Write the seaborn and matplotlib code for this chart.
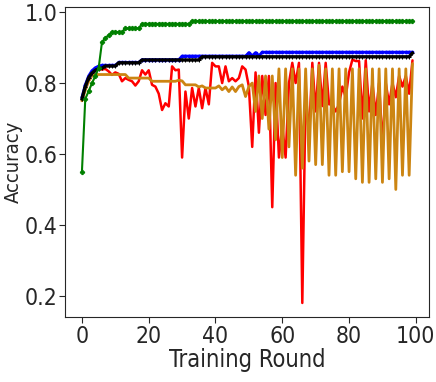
import numpy as np
import seaborn as sns
import matplotlib.pyplot as plt

sns.set_style("ticks")
plt.rcParams['font.family'] = ['DejaVu Sans']
plt.rcParams['font.stretch'] = 'condensed'

rounds = np.arange(100)

# accuracy per training round
green_acc = [0.550, 0.755, 0.777, 0.799, 0.820, 0.842, 0.915, 0.927, 0.935, 0.944,
             0.944, 0.944, 0.944, 0.954, 0.954, 0.954, 0.954, 0.954, 0.967, 0.967,
             0.967, 0.967, 0.967, 0.967, 0.967, 0.967, 0.967, 0.967, 0.967, 0.967,
             0.967, 0.967, 0.967, 0.975, 0.975, 0.975, 0.975, 0.975, 0.975, 0.975,
             0.975, 0.975, 0.975, 0.975, 0.975, 0.975, 0.975, 0.975, 0.975, 0.975,
             0.975, 0.975, 0.975, 0.975, 0.975, 0.975, 0.975, 0.975, 0.975, 0.975,
             0.975, 0.975, 0.975, 0.975, 0.975, 0.975, 0.975, 0.975, 0.975, 0.975,
             0.975, 0.975, 0.975, 0.975, 0.975, 0.975, 0.975, 0.975, 0.975, 0.975,
             0.975, 0.975, 0.975, 0.975, 0.975, 0.975, 0.975, 0.975, 0.975, 0.975,
             0.975, 0.975, 0.975, 0.975, 0.975, 0.975, 0.975, 0.975, 0.975, 0.975]

blue_acc = [0.760, 0.795, 0.820, 0.835, 0.843, 0.848, 0.850, 0.850, 0.850, 0.850,
            0.850, 0.858, 0.858, 0.858, 0.858, 0.858, 0.858, 0.858, 0.866, 0.866,
            0.866, 0.866, 0.866, 0.866, 0.866, 0.866, 0.866, 0.866, 0.866, 0.866,
            0.876, 0.876, 0.876, 0.876, 0.876, 0.876, 0.876, 0.876, 0.876, 0.876,
            0.876, 0.876, 0.876, 0.876, 0.876, 0.876, 0.876, 0.876, 0.876, 0.876,
            0.886, 0.877, 0.886, 0.877, 0.887, 0.887, 0.887, 0.887, 0.887, 0.887,
            0.887, 0.887, 0.887, 0.887, 0.887, 0.887, 0.887, 0.887, 0.887, 0.887,
            0.887, 0.887, 0.887, 0.887, 0.887, 0.887, 0.887, 0.887, 0.887, 0.887,
            0.887, 0.887, 0.887, 0.887, 0.887, 0.887, 0.887, 0.887, 0.887, 0.887,
            0.887, 0.887, 0.887, 0.887, 0.887, 0.887, 0.887, 0.887, 0.887, 0.887]

black_acc = [0.755, 0.790, 0.815, 0.828, 0.836, 0.840, 0.842, 0.848, 0.848, 0.848,
             0.848, 0.857, 0.857, 0.857, 0.857, 0.857, 0.857, 0.857, 0.865, 0.865,
             0.865, 0.865, 0.865, 0.865, 0.865, 0.865, 0.865, 0.865, 0.865, 0.865,
             0.865, 0.865, 0.865, 0.865, 0.865, 0.865, 0.874, 0.874, 0.874, 0.874,
             0.874, 0.874, 0.874, 0.874, 0.874, 0.874, 0.874, 0.874, 0.874, 0.874,
             0.874, 0.874, 0.874, 0.874, 0.874, 0.874, 0.874, 0.874, 0.874, 0.874,
             0.874, 0.874, 0.874, 0.874, 0.874, 0.874, 0.874, 0.874, 0.874, 0.874,
             0.874, 0.874, 0.874, 0.874, 0.874, 0.874, 0.874, 0.874, 0.874, 0.874,
             0.874, 0.874, 0.874, 0.874, 0.874, 0.874, 0.874, 0.874, 0.874, 0.874,
             0.874, 0.874, 0.874, 0.874, 0.874, 0.874, 0.874, 0.874, 0.874, 0.885]

red_acc = [0.750, 0.790, 0.810, 0.830, 0.835, 0.840, 0.838, 0.840, 0.833, 0.823,
           0.830, 0.826, 0.805, 0.814, 0.809, 0.805, 0.793, 0.805, 0.836, 0.824,
           0.836, 0.795, 0.790, 0.770, 0.724, 0.743, 0.734, 0.847, 0.836, 0.838,
           0.590, 0.776, 0.700, 0.786, 0.734, 0.786, 0.729, 0.786, 0.740, 0.857,
           0.847, 0.847, 0.800, 0.847, 0.805, 0.814, 0.805, 0.814, 0.847, 0.838,
           0.790, 0.620, 0.830, 0.660, 0.820, 0.710, 0.820, 0.450, 0.800, 0.590,
           0.680, 0.590, 0.800, 0.857, 0.800, 0.857, 0.180, 0.780, 0.650, 0.857,
           0.720, 0.857, 0.735, 0.857, 0.740, 0.740, 0.720, 0.740, 0.790, 0.760,
           0.830, 0.866, 0.862, 0.862, 0.700, 0.864, 0.720, 0.800, 0.710, 0.800,
           0.620, 0.800, 0.740, 0.800, 0.760, 0.820, 0.790, 0.820, 0.770, 0.864]

orange_acc = [0.750, 0.780, 0.805, 0.820, 0.824, 0.824, 0.824, 0.824, 0.824, 0.824,
              0.824, 0.824, 0.824, 0.824, 0.814, 0.814, 0.814, 0.814, 0.814, 0.814,
              0.814, 0.805, 0.805, 0.805, 0.805, 0.805, 0.805, 0.805, 0.805, 0.808,
              0.806, 0.795, 0.795, 0.795, 0.795, 0.789, 0.792, 0.786, 0.786, 0.786,
              0.786, 0.792, 0.781, 0.789, 0.776, 0.789, 0.776, 0.790, 0.795, 0.762,
              0.790, 0.800, 0.720, 0.820, 0.700, 0.820, 0.670, 0.820, 0.640, 0.840,
              0.590, 0.840, 0.620, 0.840, 0.540, 0.840, 0.560, 0.840, 0.580, 0.840,
              0.570, 0.850, 0.570, 0.840, 0.540, 0.840, 0.540, 0.840, 0.550, 0.840,
              0.550, 0.840, 0.530, 0.840, 0.520, 0.840, 0.520, 0.840, 0.530, 0.840,
              0.520, 0.840, 0.530, 0.840, 0.500, 0.840, 0.540, 0.840, 0.540, 0.855]

fig, ax = plt.subplots(figsize=(4.36, 3.82), dpi=100)
fig.subplots_adjust(left=0.15, right=0.984, bottom=0.17, top=0.982)

sns.lineplot(x=rounds, y=red_acc, color='red', linewidth=1.8, ax=ax)
sns.lineplot(x=rounds, y=orange_acc, color='#cc8512', linewidth=2, ax=ax)
sns.lineplot(x=rounds, y=blue_acc, color='blue', linewidth=2, marker='.',
             markersize=4, markeredgecolor='blue', ax=ax)
sns.lineplot(x=rounds, y=black_acc, color='black', linewidth=2.4, marker='+',
             markersize=3, markeredgecolor='black', ax=ax)
sns.lineplot(x=rounds, y=green_acc, color='green', linewidth=1.5, marker='P',
             markersize=3, markeredgecolor='green', ax=ax)

ax.set_xticks([0, 20, 40, 60, 80, 100])
ax.set_yticks([0.2, 0.4, 0.6, 0.8, 1.0])
ax.tick_params(labelsize=16.5, length=4, pad=2)
ax.set_xlabel('Training Round', fontsize=17, labelpad=0)
ax.set_ylabel('Accuracy', fontsize=14.5, labelpad=0)
ax.yaxis.set_label_coords(-0.117, 0.5)

plt.savefig('out.png', dpi=100)
